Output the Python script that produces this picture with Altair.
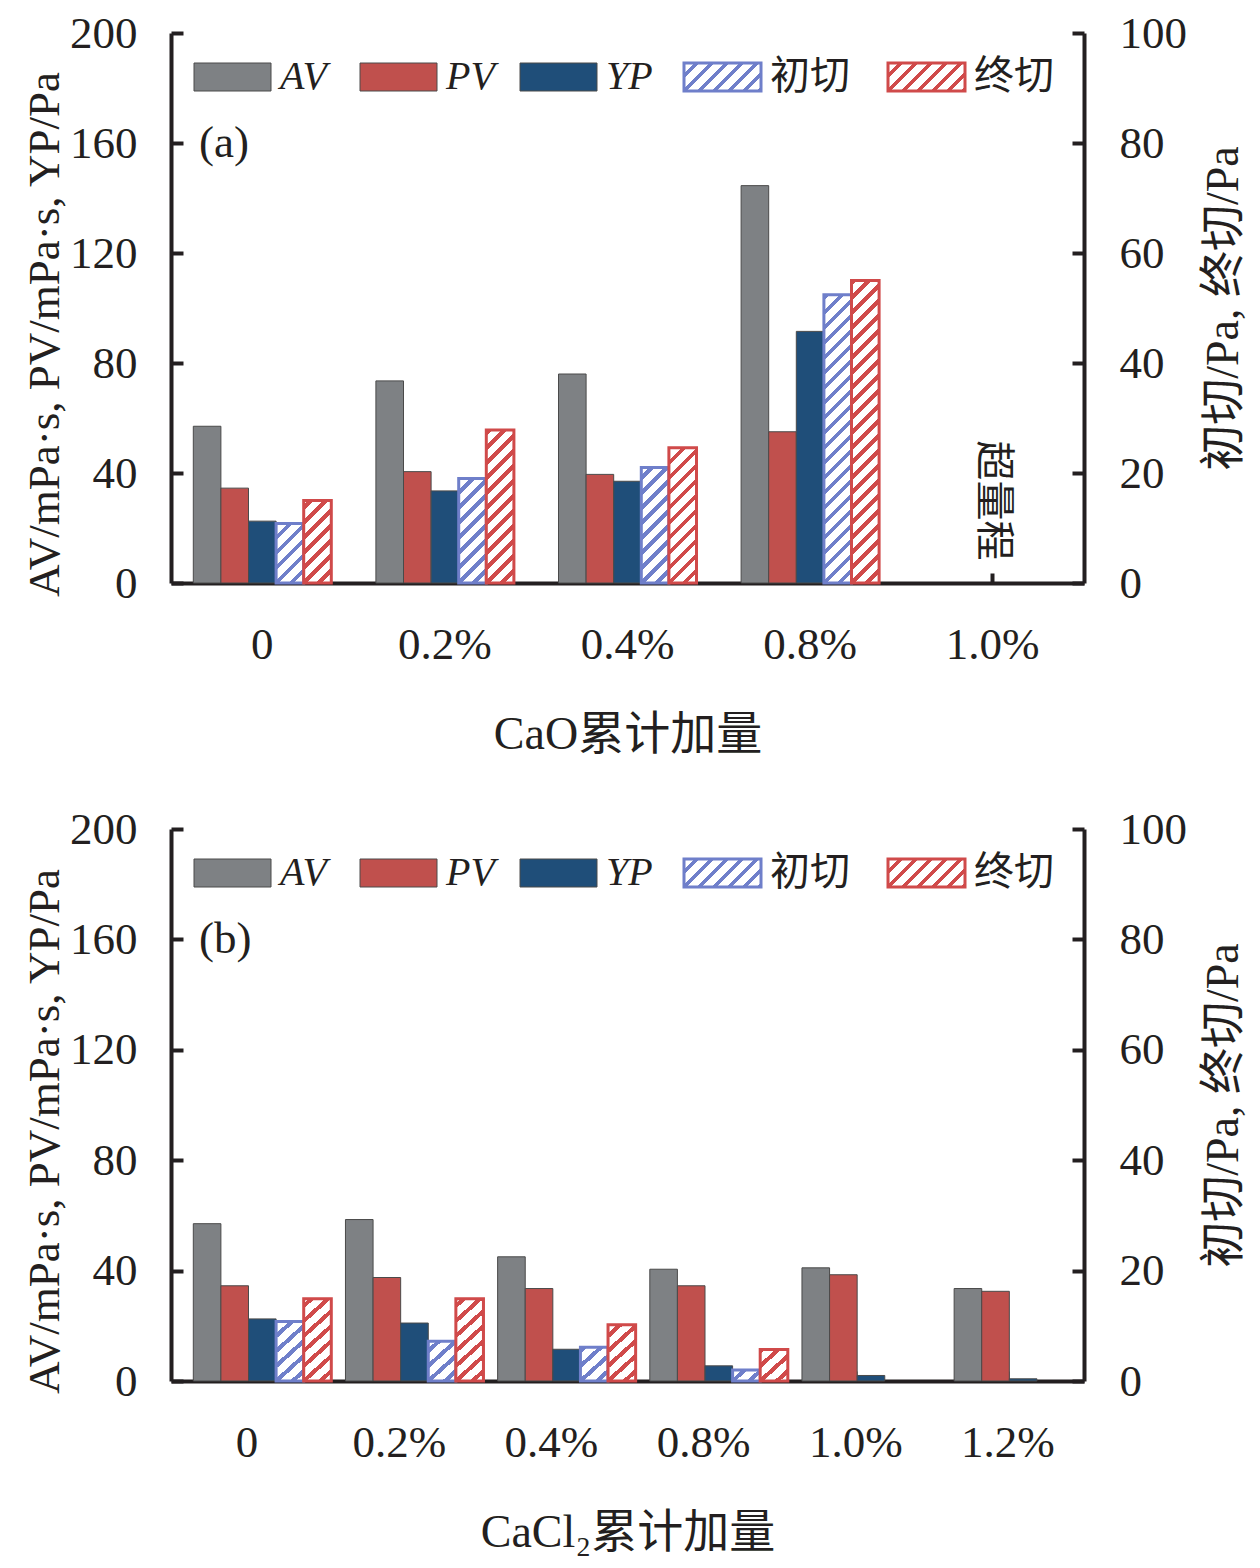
import altair as alt
import pandas as pd

SERIES = ["AV", "PV", "YP", "初切", "终切"]
COLORS = ["#7e8184", "#c0504d", "#1f4e79", "#6f7fca", "#d04a4a"]

# (a) CaO
CAO_CATS = ["0", "0.2%", "0.4%", "0.8%", "1.0%"]
CAO_AV = [57, 73.5, 76, 144.5, None]
CAO_PV = [34.5, 40.5, 39.5, 55, None]
CAO_YP = [22.5, 33.5, 37, 91.5, None]
CAO_GEL1 = [10.8, 19, 21, 52.4, None]
CAO_GEL2 = [15, 27.8, 24.6, 55, None]

# (b) CaCl2
CACL_CATS = ["0", "0.2%", "0.4%", "0.8%", "1.0%", "1.2%"]
CACL_AV = [57, 58.5, 45, 40.5, 41, 33.5]
CACL_PV = [34.5, 37.5, 33.5, 34.5, 38.5, 32.5]
CACL_YP = [22.5, 21, 11.5, 5.5, 2, 0.8]
CACL_GEL1 = [10.8, 7.2, 6.1, 2, None, None]
CACL_GEL2 = [14.9, 14.9, 10.2, 5.7, None, None]

FONT = "Liberation Serif, Noto Sans CJK SC"
INK = "#231f20"
W = 913
LEG_X = [23, 189, 349, 513, 717]
LEG_W, LEG_H = 77, 28


def hatch(color, w, h, period=15, line=5.5):
    # linear gradient with hard stops -> 45 degree "/" stripes in a w x h box
    L = w + h
    a = L / (w * w + h * h)
    stops = [{"offset": 0, "color": "white"}]
    k = -int(h // period) - 1
    while True:
        c = h + k * period
        k += 1
        lo, hi = c - line / 2, c + line / 2
        if lo >= L:
            break
        if hi <= 0:
            continue
        lo, hi = round(max(lo, 0) / L, 4), round(min(hi, L) / L, 4)
        stops += [
            {"offset": lo, "color": "white"},
            {"offset": lo, "color": color},
            {"offset": hi, "color": color},
            {"offset": hi, "color": "white"},
        ]
    stops.append({"offset": 1, "color": "white"})
    return {"gradient": "linear", "x1": 0, "y1": 0,
            "x2": round(a * w, 5), "y2": round(a * h, 5), "stops": stops}


def axis(**kw):
    base = dict(grid=False, domainColor=INK, domainWidth=4, tickColor=INK, tickWidth=4,
                labelFont=FONT, labelFontSize=45, labelColor=INK,
                titleFont=FONT, titleFontSize=46, titleColor=INK, titleFontWeight="normal")
    base.update(kw)
    return alt.Axis(**base)


def panel(cats, cols, height, bar_w, xtitle, tag, note=None):
    rows = []
    for i, c in enumerate(cats):
        for s, vals in zip(SERIES, cols):
            if vals[i] is not None:
                rows.append({"cat": c, "series": s, "value": vals[i]})
    df = pd.DataFrame(rows)

    band = W / len(cats)
    po = (band / bar_w - len(SERIES)) / 2
    x = alt.X("cat:N", sort=cats, title=xtitle,
              scale=alt.Scale(domain=cats, paddingInner=0, paddingOuter=0),
              axis=axis(labelAngle=0, labelPadding=49, tickSize=alt.ExprRef(expr="-10"),
                        titlePadding=45))
    xoff = alt.XOffset("series:N", sort=SERIES,
                       scale=alt.Scale(domain=SERIES, paddingInner=0, paddingOuter=po))
    y_left = alt.Y("value:Q", stack=None, title="AV/mPa·s, PV/mPa·s, YP/Pa",
                   scale=alt.Scale(domain=[0, 200], nice=False),
                   axis=axis(orient="left", values=[0, 40, 80, 120, 160, 200],
                             tickSize=alt.ExprRef(expr="-12"), labelPadding=46,
                             titlePadding=2, titleFontSize=45, titleY=height / 2 + 26))
    y_right = alt.Y("value:Q", stack=None, title="初切/Pa, 终切/Pa",
                    scale=alt.Scale(domain=[0, 100], nice=False),
                    axis=axis(orient="right", values=[0, 20, 40, 60, 80, 100],
                              tickSize=alt.ExprRef(expr="-12"), labelPadding=47,
                              titleAngle=270, titleBaseline="top", titlePadding=15))

    left_df = df[df.series.isin(SERIES[:3])]
    solid = alt.Chart(left_df).mark_bar(stroke="#4a4a4a", strokeWidth=1).encode(
        x=x, xOffset=xoff, y=y_left,
        fill=alt.Fill("series:N", scale=alt.Scale(domain=SERIES[:3], range=COLORS[:3]),
                      legend=None),
    )

    right_df = df[df.series.isin(SERIES[3:])]
    conds = []
    for r in right_df.itertuples():
        col = COLORS[SERIES.index(r.series)]
        conds.append({"test": f"datum.cat === '{r.cat}' && datum.series === '{r.series}'",
                      "value": hatch(col, bar_w, r.value * height / 100)})
    hatched = alt.Chart(right_df).mark_bar(strokeWidth=3).encode(
        x=x, xOffset=xoff, y=y_right,
        fill=alt.FillValue("white", condition=conds),
        stroke=alt.Stroke("series:N", scale=alt.Scale(domain=SERIES[3:], range=COLORS[3:]),
                          legend=None),
    )

    one = pd.DataFrame({"k": [0]})
    legend = []
    for i, s in enumerate(SERIES):
        x0 = LEG_X[i]
        if i < 3:
            sw = alt.Chart(one).mark_rect(fill=COLORS[i], stroke="#4a4a4a", strokeWidth=1)
        else:
            sw = alt.Chart(one).mark_rect(fill=hatch(COLORS[i], LEG_W, LEG_H),
                                          stroke=COLORS[i], strokeWidth=3)
        legend.append(sw.encode(x=alt.value(x0), x2=alt.value(x0 + LEG_W),
                                y=alt.value(30), y2=alt.value(30 + LEG_H)))
        legend.append(
            alt.Chart(one).mark_text(text=s, font=FONT, fontSize=40, color=INK,
                                     fontStyle="italic" if i < 3 else "normal",
                                     align="left", baseline="middle")
            .encode(x=alt.value(x0 + LEG_W + 9), y=alt.value(30 + LEG_H / 2))
        )

    tag_text = alt.Chart(one).mark_text(text=tag, font=FONT, fontSize=45, color=INK,
                                        align="left", baseline="middle").encode(
        x=alt.value(28), y=alt.value(110))

    left_layers = [solid, *legend, tag_text]
    if note is not None:
        note_df = pd.DataFrame({"cat": [note[0]], "value": [note[1]], "t": [note[2]]})
        left_layers.append(
            alt.Chart(note_df).mark_text(angle=90, font=FONT, fontSize=40, color=INK,
                                         align="center", baseline="middle")
            .encode(x=x, y=y_left, text="t:N")
        )

    return (
        alt.layer(alt.layer(*left_layers), hatched)
        .resolve_scale(y="independent")
        .properties(width=W, height=height)
    )


pa = panel(CAO_CATS, (CAO_AV, CAO_PV, CAO_YP, CAO_GEL1, CAO_GEL2), 550, 27.6,
           "CaO累计加量", "(a)", note=("1.0%", 30, "超量程"))
pb = panel(CACL_CATS, (CACL_AV, CACL_PV, CACL_YP, CACL_GEL1, CACL_GEL2), 552, 25,
           "CaCl₂累计加量", "(b)")

chart = (
    alt.vconcat(pa, pb, spacing=50)
    .properties(padding={"left": 14, "top": 3, "right": 5, "bottom": 5})
    .configure_view(stroke=None)
)

chart.save("out.html", embed_options={"renderer": "svg", "actions": False})
